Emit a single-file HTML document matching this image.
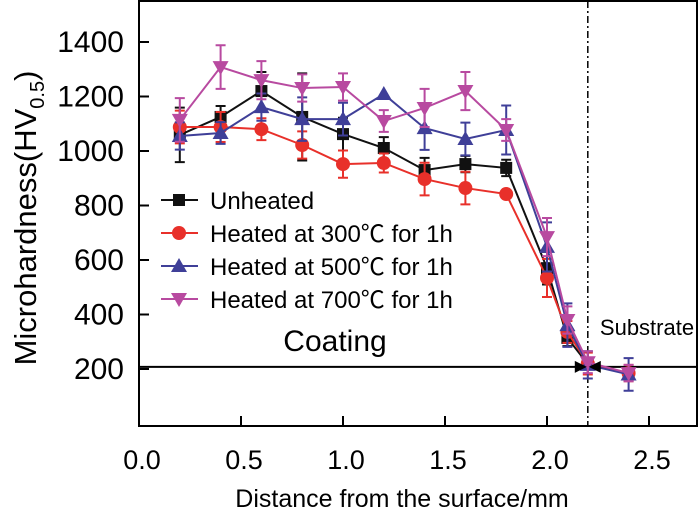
<!DOCTYPE html>
<html><head><meta charset="utf-8"><style>
body{margin:0;background:#fff}
svg{display:block;font-family:"Liberation Sans","Noto Sans CJK SC",sans-serif}
</style></head><body>
<svg id="c" width="700" height="517" viewBox="0 0 700 517">
<g id="g"></g>
</svg>
<script>
const xs=[0.2,0.4,0.6,0.8,1.0,1.2,1.4,1.6,1.8,2.0,2.1,2.2,2.4];
const unheated=[1059,1125,1220,1125,1062,1011,930,952,938,570,314,218,185];
const unheatedErr=[100,40,70,160,60,40,45,30,30,60,30,20,20];
const heated300=[1088,1088,1080,1022,952,956,897,864,842,534,336,220,185];
const heated300Err=[60,55,40,50,50,35,60,60,0,70,40,40,30];
const heated500=[1055,1066,1161,1117,1117,1209,1084,1044,1077,648,361,215,180];
const heated500Err=[50,40,50,80,60,0,80,60,90,90,80,50,60];
const heated700=[1114,1308,1260,1231,1235,1110,1158,1220,1077,684,380,225,185];
const heated700Err=[80,80,70,50,50,40,70,70,40,70,50,40,30];
const xTicks=["0.0","0.5","1.0","1.5","2.0","2.5"];
const yTicks=[200,400,600,800,1000,1200,1400];
const legendLabels=["Unheated","Heated at 300\u2103 for 1h","Heated at 500\u2103 for 1h","Heated at 700\u2103 for 1h"];
const X=v=>139+v*204, Y=v=>369-(v-200)*0.2725;
const g=document.getElementById('g'),NS="http://www.w3.org/2000/svg";
function el(t,a,txt){const e=document.createElementNS(NS,t);for(const k in a)e.setAttribute(k,a[k]);if(txt!=null)e.textContent=txt;g.appendChild(e);return e;}
let e;
e=el('rect',{x:139,y:1,width:558,height:425,fill:'none',stroke:'#000','stroke-width':2});


yTicks.forEach(v=>{
 e=el('line',{x1:139,x2:149,y1:Y(v),y2:Y(v),stroke:'#000','stroke-width':2});
 
 
 e=el('text',{x:124,y:Y(v)+10,'text-anchor':'end','font-size':30},v);
 
 
});
xTicks.forEach(t=>{const v=parseFloat(t);
 e=el('line',{x1:X(v),x2:X(v),y1:426,y2:416,stroke:'#000','stroke-width':2});
 
 
 e=el('text',{x:X(v)+3,y:469,'text-anchor':'middle','font-size':27},t);
 
 
});
e=el('text',{x:402,y:507,'text-anchor':'middle','font-size':25},'Distance from the surface/mm');


e=el('text',{transform:'translate(36,218) rotate(-90)','text-anchor':'middle','font-size':31});


e.innerHTML='Microhardness(HV<tspan font-size="20" dy="8">0.5</tspan><tspan dy="-8">)</tspan>';
e=el('line',{x1:139,x2:697,y1:Y(208),y2:Y(208),stroke:'#000','stroke-width':2});


e=el('line',{x1:X(2.2),x2:X(2.2),y1:1,y2:426,stroke:'#000','stroke-width':1.5,'stroke-dasharray':'7,3,2,3'});


e=el('text',{x:335,y:351,'text-anchor':'middle','font-size':30},'Coating');


e=el('text',{x:647,y:335,'text-anchor':'middle','font-size':22},'Substrate');


const series=[[unheated,unheatedErr,'#111','sq'],[heated300,heated300Err,'#e8302a','ci'],[heated500,heated500Err,'#3f3f98','tu'],[heated700,heated700Err,'#b84aa0','td']];
function marker(type,x,y,c,s){
 if(type=='sq')return el('rect',{x:x-s,y:y-s,width:2*s,height:2*s,fill:c});
 if(type=='ci')return el('circle',{cx:x,cy:y,r:s+1,fill:c});
 if(type=='tu')return el('path',{d:`M${x},${y-s-2}L${x+s+2},${y+s}L${x-s-2},${y+s}Z`,fill:c});
 return el('path',{d:`M${x},${y+s+2}L${x+s+2},${y-s}L${x-s-2},${y-s}Z`,fill:c});
}
series.forEach((s,i)=>{const [vals,errs,c,m]=s;
 errs.forEach((er,j)=>{if(!er)return;const x=X(xs[j]);
  e=el('path',{d:`M${x},${Y(vals[j]-er)}V${Y(vals[j]+er)}M${x-5},${Y(vals[j]-er)}h10M${x-5},${Y(vals[j]+er)}h10`,stroke:c,'stroke-width':2,fill:'none'});
  
  
 });
 e=el('polyline',{points:vals.map((v,j)=>X(xs[j])+','+Y(v)).join(' '),fill:'none',stroke:c,'stroke-width':2});
 
 
 vals.forEach((v,j)=>{e=marker(m,X(xs[j]),Y(v),c,6);
  
  });
 const ly=200+i*33;
 e=el('line',{x1:161,x2:198,y1:ly,y2:ly,stroke:c,'stroke-width':2});
 
 
 e=marker(m,179,ly,c,6);
 
 
 e=el('text',{x:210,y:ly+9,'font-size':24},legendLabels[i]);
 
 
});
const ay=Y(208),ax=X(2.2);
e=el('path',{d:`M${ax-1},${ay}l-12,-6v12Z M${ax+1},${ay}l12,-6v12Z`,fill:'#000'});


</script>
</body></html>
